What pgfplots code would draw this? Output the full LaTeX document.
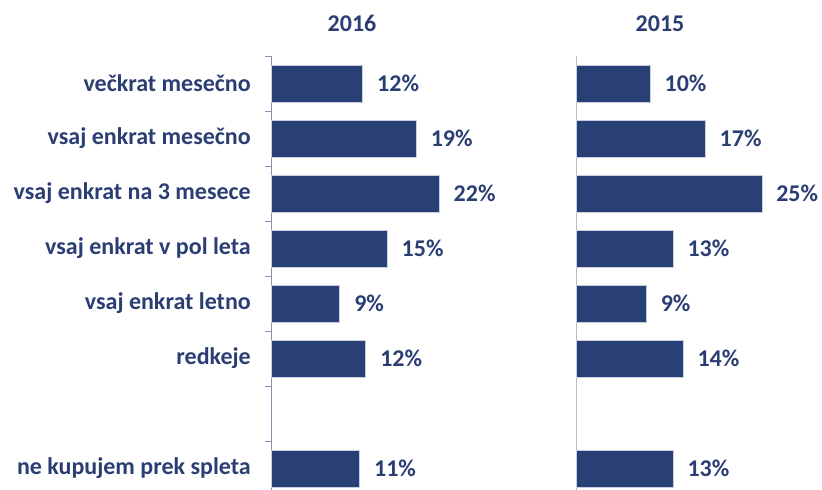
\documentclass[border=0pt]{standalone}
\usepackage{pgfplots}
\pgfplotsset{compat=1.18}
\usepackage{fontspec}
\setmainfont{Carlito}
\definecolor{navy}{RGB}{40,64,118}
\definecolor{txt}{RGB}{43,62,115}
\definecolor{edge}{RGB}{200,206,222}
\definecolor{laxis}{RGB}{134,146,178}
\definecolor{raxis}{RGB}{190,190,190}
\newcommand{\cf}{\fontsize{24bp}{28bp}\selectfont\bfseries}
\pgfplotsset{
  panel/.style={
    scale only axis, width=229.5bp, height=440bp,
    xmin=0, xmax=30, ymin=0.5, ymax=8.5, y dir=reverse,
    xbar, bar width=37bp, bar shift=0pt,
    axis x line=none, axis y line*=left,
    point meta=explicit symbolic,
    nodes near coords={\pgfplotspointmeta\%},
    nodes near coords style={anchor=west, inner sep=0pt, xshift=14bp, font=\cf, text=txt},
    title style={font=\cf, text=txt, anchor=south, yshift=15bp},
    clip=false,
  }
}
\begin{document}
\begin{tikzpicture}[x=1bp,y=1bp]
\path[use as bounding box] (0,0) rectangle (822,490);
\begin{axis}[panel, at={(271bp,-6bp)}, anchor=south west,
  title={2016}, title style={at={(0.353,1)}},
  ytick={1,2,3,4,5,6,7,8},
  yticklabels={ve\v{c}krat mese\v{c}no, vsaj enkrat mese\v{c}no, vsaj enkrat na 3 mesece, vsaj enkrat v pol leta, vsaj enkrat letno, redkeje, {}, ne kupujem prek spleta},
  major tick length=0pt,
  minor ytick={0.5,1.5,...,8.5},
  minor tick length=6bp, tick align=outside,
  yticklabel style={font=\cf, text=txt, inner sep=0pt, xshift=-20bp},
  y axis line style={laxis, line width=1bp},
  minor tick style={laxis, line width=1bp},
]
\addplot[fill=navy, draw=edge, line width=0.8bp] table[x=x, y=y, meta=lab] {
x y lab
12.0 1 12
19.0 2 19
22.0 3 22
15.2 4 15
9.0 5 9
12.4 6 12
11.6 8 11
};
\end{axis}
\begin{axis}[panel, at={(576bp,-6bp)}, anchor=south west,
  title={2015}, title style={at={(0.366,1)}},
  ytick=\empty,
  y axis line style={raxis, line width=1bp},
]
\addplot[fill=navy, draw=edge, line width=0.8bp] table[x=x, y=y, meta=lab] {
x y lab
9.7 1 10
16.9 2 17
24.3 3 25
12.7 4 13
9.2 5 9
14.0 6 14
12.7 8 13
};
\end{axis}
\end{tikzpicture}
\end{document}
